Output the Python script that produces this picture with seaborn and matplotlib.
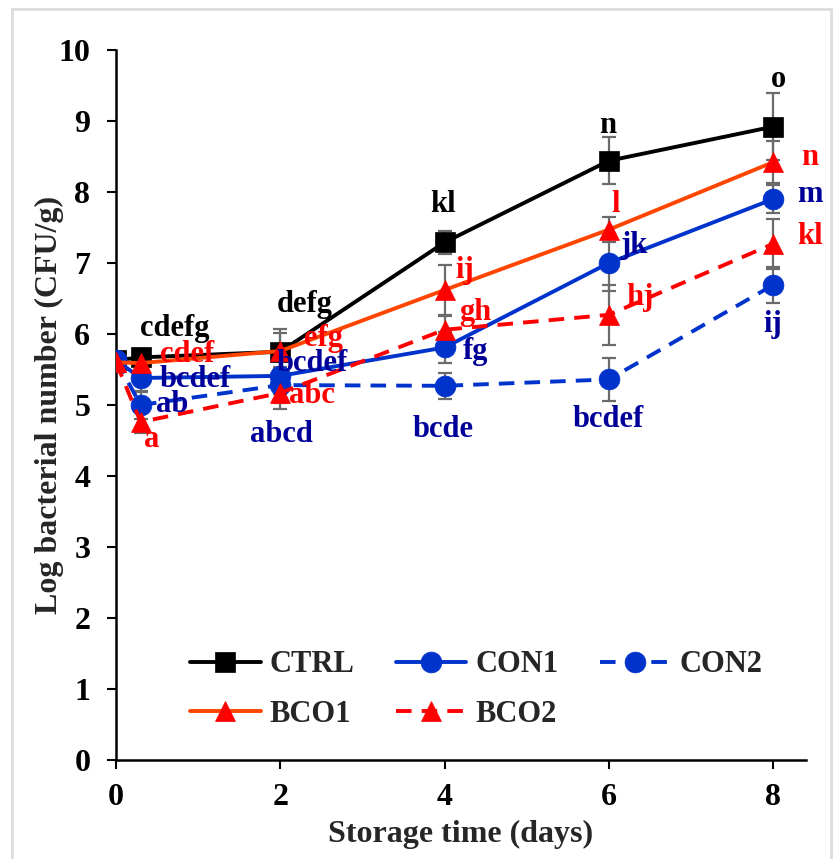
import numpy as np
import pandas as pd
import seaborn as sns
import matplotlib
matplotlib.use("Agg")
import matplotlib.pyplot as plt
from matplotlib.patches import Rectangle

# ---------------- data ----------------
days = [0, 0.3, 2, 4, 6, 8]

ctrl = [5.63, 5.67, 5.75, 7.29, 8.44, 8.92]
ctrl_err = [0.10, 0.12, 0.32, 0.16, 0.33, 0.47]
ctrl_lbl = ["", "cdefg", "defg", "kl", "n", "o"]

con1 = [5.63, 5.38, 5.41, 5.81, 7.00, 7.90]
con1_err = [0.10, 0.20, 0.25, 0.22, 0.40, 0.20]
con1_lbl = ["", "bcdef", "bcdef", "fg", "jk", "m"]

con2 = [5.63, 5.00, 5.28, 5.27, 5.36, 6.69]
con2_err = [0.10, 0.20, 0.25, 0.18, 0.30, 0.25]
con2_lbl = ["", "ab", "abcd", "bcde", "bcdef", "ij"]

bco1 = [5.60, 5.59, 5.76, 6.62, 7.47, 8.42]
bco1_err = [0.10, 0.12, 0.26, 0.35, 0.18, 0.30]
bco1_lbl = ["", "cdef", "efg", "ij", "l", "n"]

bco2 = [5.60, 4.76, 5.17, 6.06, 6.27, 7.27]
bco2_err = [0.10, 0.15, 0.22, 0.20, 0.42, 0.35]
bco2_lbl = ["", "a", "abc", "gh", "hj", "kl"]

series_names = ["CTRL", "CON1", "CON2", "BCO1", "BCO2"]
legend_order = ["CTRL", "BCO1", "CON1", "BCO2", "CON2"]
x_ticks = [0, 2, 4, 6, 8]
y_ticks = [0, 1, 2, 3, 4, 5, 6, 7, 8, 9, 10]

# ---------------- style ----------------
sns.set_theme(style="white")
plt.rcParams["font.family"] = ["Liberation Serif", "DejaVu Serif"]
plt.rcParams["font.weight"] = "bold"
plt.rcParams["axes.labelweight"] = "bold"

BLUE = "#0033CC"
NAVY = "#000099"
ORANGE = "#FF4500"
RED = "#FF0000"
FS = 23

fig = plt.figure(figsize=(8.33, 8.59), dpi=100)
ax = fig.add_axes([0.1393, 0.1153, 0.8283, 0.8265])

df = pd.DataFrame({
    "day": days * 5,
    "value": ctrl + con1 + con2 + bco1 + bco2,
    "err": ctrl_err + con1_err + con2_err + bco1_err + bco2_err,
    "series": sum([[n] * len(days) for n in series_names], []),
})

styles = {
    "CTRL": dict(color="black", mfc="black", marker="s", ls="-", ms=14),
    "CON1": dict(color=BLUE, mfc=BLUE, marker="o", ls="-", ms=15),
    "CON2": dict(color=BLUE, mfc=BLUE, marker="o", ls=(0, (4, 2.6)), ms=15),
    "BCO1": dict(color=ORANGE, mfc=RED, marker="^", ls="-", ms=15),
    "BCO2": dict(color=RED, mfc=RED, marker="^", ls=(0, (4, 2.6)), ms=15),
}

# error bars first
for name in series_names:
    sub = df[df.series == name]
    ax.errorbar(sub["day"], sub["value"], yerr=sub["err"], fmt="none",
                ecolor="#6b6b6b", elinewidth=1.6, capsize=5, capthick=1.6,
                zorder=1)

for name in series_names:
    sub = df[df.series == name]
    st = styles[name]
    sns.lineplot(data=sub, x="day", y="value", ax=ax, color=st["color"],
                 marker=st["marker"], linestyle=st["ls"], linewidth=2.8,
                 markersize=st["ms"], markerfacecolor=st["mfc"],
                 markeredgecolor=st["mfc"], markeredgewidth=0.5,
                 label=name, zorder=3, sort=False)

# letters
txt_kw = dict(fontsize=FS - 1, fontweight="bold", ha="center", va="center", zorder=5)
ctrl_pos = [None, (0.72, 6.08), (2.30, 6.41), (3.98, 7.82), (5.98, 8.94), (8.06, 9.58)]
bco1_pos = [None, (0.86, 5.71), (2.53, 5.94), (4.25, 6.90), (6.08, 7.82), (8.45, 8.48)]
con1_pos = [None, (0.96, 5.36), (2.39, 5.58), (4.37, 5.75), (6.30, 7.25), (8.45, 7.96)]
con2_pos = [None, (0.68, 5.00), (2.01, 4.58), (3.98, 4.65), (5.99, 4.79), (8.00, 6.13)]
bco2_pos = [None, (0.44, 4.52), (2.38, 5.14), (4.37, 6.30), (6.38, 6.51), (8.45, 7.37)]
for lbls, poss, col in [(ctrl_lbl, ctrl_pos, "black"), (bco1_lbl, bco1_pos, RED),
                        (con1_lbl, con1_pos, NAVY), (con2_lbl, con2_pos, NAVY),
                        (bco2_lbl, bco2_pos, RED)]:
    for t, p in zip(lbls, poss):
        if t and p:
            ax.text(p[0], p[1], t, color=col, **txt_kw)

ax.set_xlim(0, 8.4)
ax.set_ylim(0, 10)
ax.set_xticks(x_ticks)
ax.set_yticks(y_ticks)
ax.set_xticklabels([str(v) for v in x_ticks])
ax.set_yticklabels([str(v) for v in y_ticks])
ax.tick_params(axis="both", direction="out", length=6.5, width=1.5, colors="black",
               labelsize=FS, left=True, bottom=True)
ax.tick_params(axis="y", pad=12)
ax.tick_params(axis="x", pad=10)
for lab in ax.get_xticklabels() + ax.get_yticklabels():
    lab.set_fontweight("bold")

for side in ["top", "right"]:
    ax.spines[side].set_visible(False)
for side in ["left", "bottom"]:
    ax.spines[side].set_color("black")
    ax.spines[side].set_linewidth(1.8)

ax.set_xlabel("Storage time (days)", fontsize=FS, fontweight="bold", labelpad=6)
ax.set_ylabel("Log bacterial number (CFU/g)", fontsize=FS, fontweight="bold", labelpad=-4)

handles, labels = ax.get_legend_handles_labels()
hmap = dict(zip(labels, handles))
leg = ax.legend([hmap[n] for n in legend_order], legend_order, ncol=3, loc="center",
                bbox_to_anchor=(0.522, 0.099),
                frameon=False, handlelength=2.3, handletextpad=0.3,
                columnspacing=1.35, labelspacing=0.68,
                prop={"weight": "bold", "size": FS - 1})

ax.grid(False)
ax.set_facecolor("white")

# light grey frame around figure
fig.patches.append(Rectangle((12 / 833, -0.01), 819 / 833, 1 - 9 / 859 + 0.01,
                             transform=fig.transFigure, fill=False,
                             edgecolor="#dddddd", linewidth=2, zorder=0))

fig.savefig("out.png", dpi=100)
